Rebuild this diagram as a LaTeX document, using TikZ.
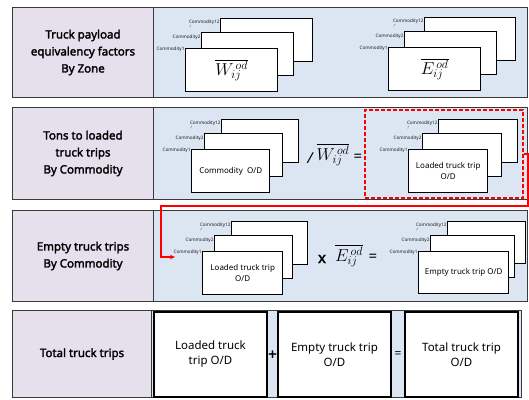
\documentclass[tikz,border=0pt]{standalone}
\usepackage{fontspec}
\setmainfont{Noto Sans}[BoldFont={Noto Sans}, BoldFeatures={FakeBold=2.2}]
\usetikzlibrary{arrows.meta}
\definecolor{lav}{HTML}{E5E0EC}
\definecolor{lblue}{HTML}{DCE6F2}
\definecolor{framec}{HTML}{3A3A3A}
\tikzset{
 lbox/.style={draw=framec, line width=1pt, fill=lav, anchor=north west, inner sep=2pt, font=\fontsize{11.5}{17}\selectfont\bfseries, align=center},
 rpanel/.style={draw=framec, line width=1pt, fill=lblue, anchor=north west, inner sep=0pt},
 card/.style={draw=black, line width=1.4pt, fill=white, anchor=north west, inner sep=0pt, align=center, font=\fontsize{8}{11}\selectfont},
 clab/.style={anchor=east, inner sep=0.4pt, font=\fontsize{4.6}{5}\selectfont, text=black!90},
 wbox/.style={draw=black, line width=1.1pt, fill=white, inner sep=0pt, font=\fontsize{11.5}{15}\selectfont, align=center},
 opsym/.style={inner sep=0pt, font=\fontsize{15}{15}\selectfont\bfseries},
 eqsym/.style={inner sep=0pt, font=\fontsize{15}{15}\selectfont},
 mathlbl/.style={inner sep=0pt, font=\fontsize{17}{17}\selectfont},
 redline/.style={draw=red, line width=1.4pt},
}
% #1 prefix, #2 x, #3 y (card1 upper-left), #4 w (front), #5 h, #6 dx2, #7 dx3, #8 content, #9 w (back)
\newcommand\cardstack[9]{%
 \node[card, minimum width=#9pt, minimum height=#5pt] (#1c3) at (#2+#7, #3-30) {};
 \node[card, minimum width={(#4+#9)/2*1pt}, minimum height=#5pt] (#1c2) at (#2+#6, #3-16) {};
 \node[card, minimum width=#4pt, minimum height=#5pt] (#1c1) at (#2, #3) {#8};
 \node[clab] (#1l3) at ([yshift=-4pt]#1c3.north west) {Commodity12};
 \node[clab] (#1l2) at ([yshift=-5pt]#1c2.north west) {Commodity2};
 \node[clab] (#1l1) at ([yshift=-1.5pt]#1c1.north west) {Commodity1};
 \draw[black!60, line width=0.3pt] ([xshift=2.5pt]#1l3.south west) -- ++(-1.5,2.5);
}
\begin{document}
\begin{tikzpicture}[x=1pt, y=-1pt]
\useasboundingbox (0,0) rectangle (529,399);
% ---------- Row 1
\node[rpanel, minimum width=374pt, minimum height=90pt] (p1) at (153,7) {};
\node[lbox, minimum width=141pt, minimum height=90pt] (l1) at (12,7) {Truck payload\\equivalency factors\\By Zone};
\cardstack{a}{185}{48}{92}{43}{16}{35}{\raisebox{2pt}{\fontsize{18}{18}\selectfont$\overline{W_{ij}^{\,od}}$}}{92}
\cardstack{b}{388}{47}{92}{43}{16}{36}{\raisebox{2pt}{\fontsize{18}{18}\selectfont$\overline{E_{ij}^{\,od}}$}}{91}
% ---------- Row 2
\node[rpanel, minimum width=374pt, minimum height=92pt] (p2) at (153,107) {};
\node[lbox, minimum width=141pt, minimum height=92pt] (l2) at (12,107) {Tons to loaded\\truck trips\\By Commodity};
\cardstack{c}{191}{149}{78}{43}{13}{30}{Commodity\ \ O/D}{77}
\node[opsym] (slash) at (310,158) {\itshape /};
\node[mathlbl] (w2) at (333,155) {$\overline{W_{ij}^{\,od}}$};
\node[eqsym] (eq2) at (358,158) {=};
\node[draw=red, dashed, dash pattern=on 4pt off 2pt, line width=1.4pt, minimum width=158pt, minimum height=88pt, inner sep=0pt] (dash) at (444,154) {};
\cardstack{d}{408}{149}{79}{43}{14}{30}{Loaded truck trip\\O/D}{79}
% ---------- Row 3
\node[rpanel, minimum width=374pt, minimum height=91pt] (p3) at (153,210) {};
\node[lbox, minimum width=141pt, minimum height=91pt] (l3) at (12,210) {Empty truck trips\\By Commodity};
\cardstack{e}{202}{251}{80}{43}{12}{29}{Loaded truck trip\\O/D}{76}
\node[opsym] (times) at (322,259) {x};
\node[mathlbl] (e3) at (349,256) {$\overline{E_{ij}^{\,od}}$};
\node[eqsym] (eq3) at (373,258) {=};
\cardstack{f}{418}{251}{90}{42}{12}{29}{Empty truck trip O/D}{78}
% red connector
\coordinate (t1) at (528,206);
\coordinate (t2) at (161,206);
\coordinate (aend) at (175,257);
\draw[redline, -{Stealth[length=5pt,width=4.5pt]}] (dash.east) -| (t1) -- (t2) |- (aend);
% ---------- Row 4
\node[rpanel, minimum width=370pt, minimum height=87pt] (p4) at (151,310) {};
\node[lbox, minimum width=139pt, minimum height=87pt] (l4) at (12,310) {Total truck trips};
\node[wbox, minimum width=113pt, minimum height=85pt] (b1) at (210.5,354.5) {Loaded truck\\trip O/D};
\node[wbox, minimum width=113pt, minimum height=85pt] (b2) at (334.5,354.5) {Empty truck trip\\O/D};
\node[wbox, minimum width=113pt, minimum height=85pt] (b3) at (461.5,354.5) {Total truck trip\\O/D};
\node[opsym] (plus) at (272.5,355) {+};
\node[inner sep=0pt, font=\fontsize{12}{12}\selectfont] (eq4) at (398,355) {=};
\end{tikzpicture}
\end{document}
